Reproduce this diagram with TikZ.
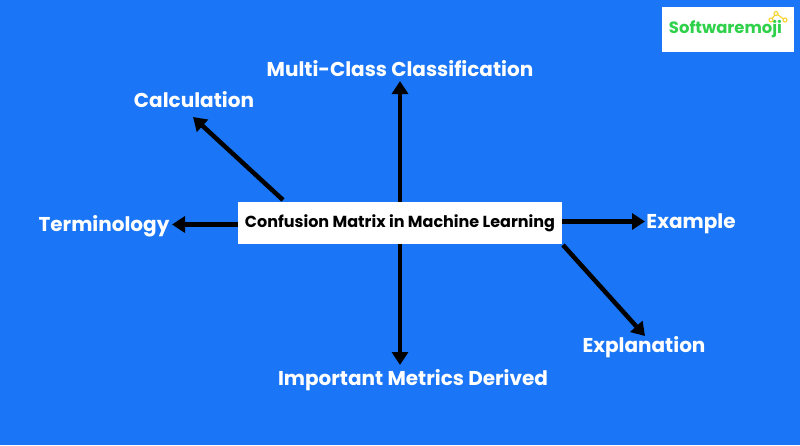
\documentclass[tikz,border=0pt]{standalone}
\usepackage{fontspec}
\setmainfont{Poppins}[BoldFont={Poppins Bold}]
\usetikzlibrary{arrows.meta}
\definecolor{bgblue}{HTML}{1A76F6}
\definecolor{logogreen}{HTML}{2FD14A}
\definecolor{logoyellow}{HTML}{F7D32E}
\tikzset{
  x=1pt,y=-1pt,
  label text/.style={text=white,font=\bfseries\fontsize{20}{24}\selectfont,inner sep=0pt,anchor=center},
  arrowline/.style={draw=black,line width=4.5pt,-{Triangle[length=13pt,width=16pt]}},
  center box/.style={fill=white,draw=none,minimum width=324pt,minimum height=42pt,inner sep=0pt,text=black,text height=14pt,text depth=3.5pt,font=\bfseries\fontsize{16}{19}\selectfont},
  logo box/.style={fill=white,draw=none,minimum width=132pt,minimum height=45pt,inner sep=0pt},
  logo text/.style={text=logogreen,font=\bfseries\fontsize{16.4}{19}\selectfont,inner sep=0pt},
  logo icon/.style={draw=logoyellow,line width=1.1pt,fill=white,circle,minimum size=4pt,inner sep=0pt}
}
\begin{document}
\begin{tikzpicture}
\useasboundingbox (0,0) rectangle (800,445);
\fill[bgblue] (0,0) rectangle (800,445);
\node[logo box] (logo) at (728,29.5) {};
\node[logo text] (logoname) at (725.5,29) {Softwaremoji};
\coordinate (ia) at (776,13.5);
\coordinate (ib) at (771,20);
\coordinate (ic) at (785,20);
\draw[logoyellow,line width=1.1pt] (ib) -- (ia) -- (ic);
\node[logo icon] (ja) at (ia) {};
\node[logo icon] (jb) at (ib) {};
\node[logo icon] (jc) at (ic) {};

\node[center box] (main) at (400,222.5) {Confusion Matrix in Machine Learning};

\node[label text] (multi) at (400,69) {Multi-Class Classification};
\node[label text] (calc) at (194,100) {Calculation};
\node[label text] (term) at (104,226.5) {Terminology};
\node[label text] (exam) at (691,223.5) {Example};
\node[label text] (expl) at (644,347) {Explanation};
\node[label text] (metr) at (413,380) {Important Metrics Derived};

\coordinate (mt) at (400,81);
\coordinate (cl) at (193,117);
\coordinate (tr) at (172,224.5);
\coordinate (ex) at (645,221.5);
\coordinate (ep) at (645,336);
\coordinate (md) at (400,365);

\draw[arrowline] (400,201.5) -- (mt);
\draw[arrowline] (283,200) -- (cl);
\draw[arrowline] (main.west |- tr) -- (tr);
\draw[arrowline] (main.east |- ex) -- (ex);
\draw[arrowline] (563,245) -- (ep);
\draw[arrowline] (400,243.5) -- (md);
\end{tikzpicture}
\end{document}
